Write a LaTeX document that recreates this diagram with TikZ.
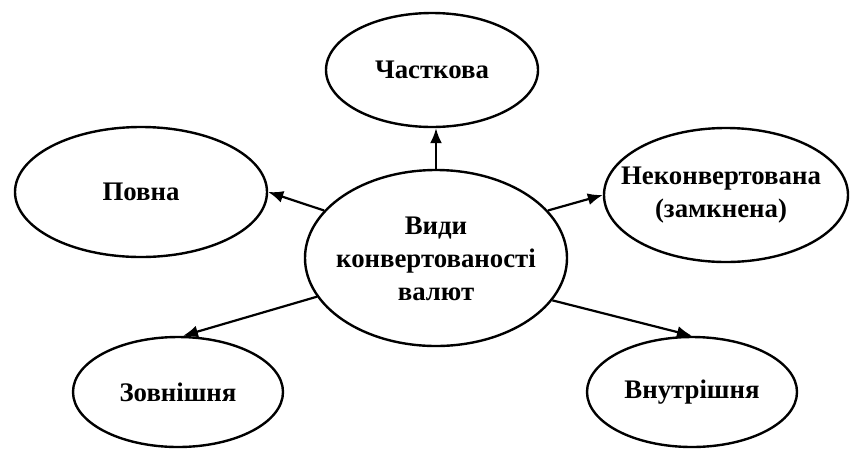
\documentclass[tikz,border=0pt]{standalone}
\usepackage{fontspec}
\setmainfont{Liberation Serif}
\usetikzlibrary{shapes.geometric,arrows.meta}
\begin{document}
\begin{tikzpicture}[x=1pt,y=-1pt,
  oval/.style={draw,ellipse,line width=2.4pt,inner sep=0pt},
  txt/.style={inner sep=0pt,align=center,font=\fontsize{26.8}{33}\selectfont\bfseries},
  conn/.style={line width=2.2pt,-{Latex[length=15pt,width=12pt]}}]
\useasboundingbox[fill=white] (0,0) rectangle (850,448);
\node[oval,minimum width=262pt,minimum height=176pt,label={[txt,yshift=-1pt]center:Види\\конвертованості\\валют}] (c) at (436,258) {};
\node[oval,minimum width=212pt,minimum height=114pt,label={[txt]center:Часткова}] (ch) at (432,70) {};
\node[oval,minimum width=252pt,minimum height=130pt,label={[txt]center:Повна}] (p) at (141,192) {};
\node[oval,minimum width=244pt,minimum height=134pt,label={[txt,xshift=-5pt]center:Неконвертована\\(замкнена)}] (n) at (726,195) {};
\node[oval,minimum width=210pt,minimum height=110pt,label={[txt]center:Зовнішня}] (z) at (178,392) {};
\node[oval,minimum width=210pt,minimum height=110pt,label={[txt]center:Внутрішня}] (v) at (692,392) {};
\draw[conn] (c.north) -- (c.north |- ch.south);
\draw[conn] (c.157) -- (p.east);
\draw[conn] (c.23) -- (n.west);
\draw[conn] (c.198) -- (z.85);
\draw[conn] (c.-20) -- (v.north);
\end{tikzpicture}
\end{document}
